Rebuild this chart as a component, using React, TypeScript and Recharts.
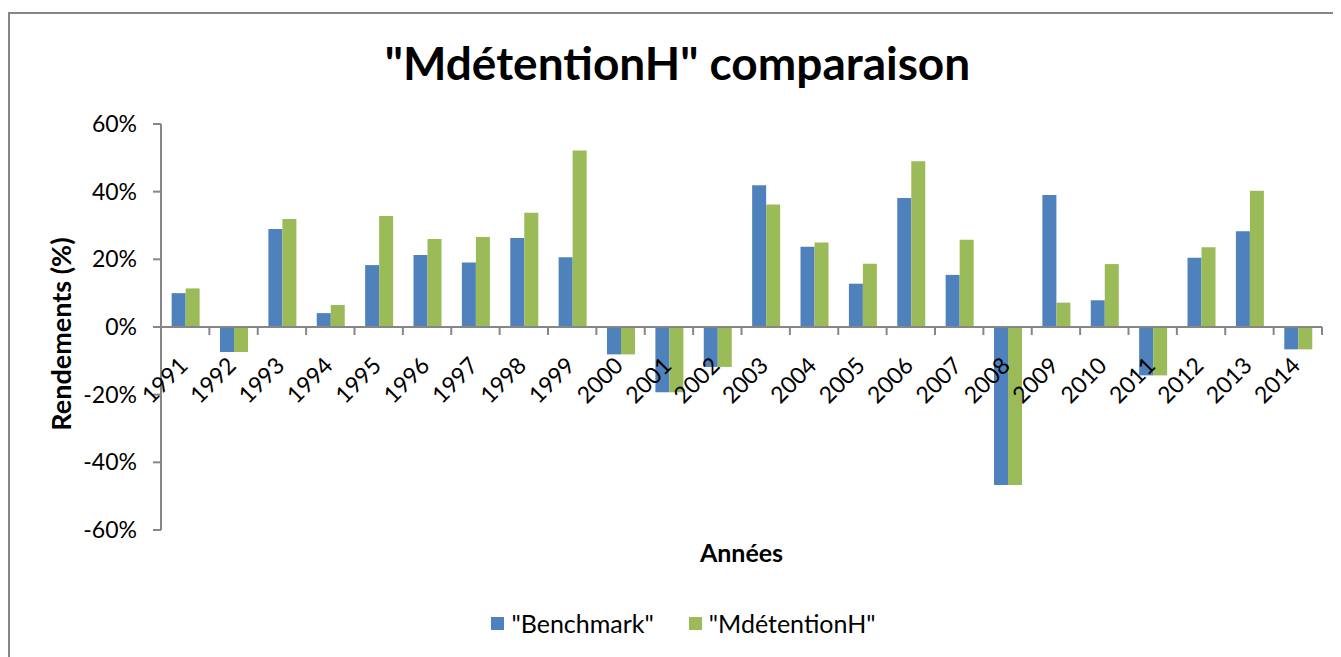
import React from 'react';
import { BarChart, Bar, XAxis, YAxis, ReferenceLine } from 'recharts';

// years on the x axis
const years = [
  '1991', '1992', '1993', '1994', '1995', '1996', '1997', '1998', '1999', '2000', '2001', '2002',
  '2003', '2004', '2005', '2006', '2007', '2008', '2009', '2010', '2011', '2012', '2013', '2014',
];

// yearly returns in %
const benchmark = [
  10.0, -7.4, 29.0, 4.1, 18.3, 21.3, 19.1, 26.3, 20.6, -8.1, -19.3, -11.8,
  41.9, 23.7, 12.8, 38.1, 15.4, -46.7, 39.0, 7.9, -14.3, 20.5, 28.3, -6.6,
];
const mdetention = [
  11.4, -7.4, 31.9, 6.5, 32.8, 26.0, 26.6, 33.8, 52.2, -8.1, -19.3, -11.8,
  36.2, 25.0, 18.7, 49.0, 25.8, -46.7, 7.2, 18.6, -14.3, 23.6, 40.3, -6.6,
];

const yTicks = [-60, -40, -20, 0, 20, 40, 60];

const data = years.map((y, i) => ({ year: y, bench: benchmark[i], mdet: mdetention[i] }));

const W = 1333;
const H = 649;
const MARGIN = { top: 116, right: 19, bottom: 97, left: 93 };
const Y_AXIS_W = 60;
const X_AXIS_H = 30;
const PLOT_W = W - MARGIN.left - MARGIN.right - Y_AXIS_W;
const PLOT_H = H - MARGIN.top - MARGIN.bottom - X_AXIS_H;
const CAT_W = PLOT_W / years.length;

const AXIS = '#868686';
const FONT = 'Lato, "Open Sans", sans-serif';
const BLUE = '#4F81BD';
const GREEN = '#9BBB59';

// x axis sits on the 0% line, not at the bottom of the plot
const XTick = (props: any) => {
  const { x, y, payload, index } = props;
  const zy = y - PLOT_H / 2;
  const lx = x + 4;
  const ly = zy + 40;
  return (
    <g>
      <line x1={x - CAT_W / 2} y1={zy} x2={x - CAT_W / 2} y2={zy + 8} stroke={AXIS} strokeWidth={2} />
      {index === years.length - 1 && (
        <line x1={x + CAT_W / 2} y1={zy} x2={x + CAT_W / 2} y2={zy + 8} stroke={AXIS} strokeWidth={2} />
      )}
      <text
        x={lx}
        y={ly}
        textAnchor="end"
        transform={`rotate(-45, ${lx}, ${ly})`}
        fontSize={23}
        fontFamily={FONT}
        fill="#000"
      >
        {payload.value}
      </text>
    </g>
  );
};

const swatch = (color: string) => (
  <span style={{ width: 13, height: 13, background: color, display: 'inline-block', marginRight: 7 }} />
);

export default function App() {
  return (
    <div style={{ position: 'relative', width: W, height: H, overflow: 'hidden', background: '#fff' }}>
      <div
        style={{
          position: 'absolute', left: 0, top: 4, width: W + 40, height: H + 40,
          borderTop: `2px solid ${AXIS}`, borderLeft: `2px solid ${AXIS}`,
        }}
      />
      <div
        style={{
          position: 'absolute', left: 0, width: W + 6, top: 27, textAlign: 'center',
          fontFamily: FONT, fontWeight: 'bold', fontSize: 46, color: '#000',
        }}
      >
        "MdétentionH" comparaison
      </div>
      <div style={{ position: 'absolute', left: 52, top: 326, width: 0, height: 0 }}>
        <div
          style={{
            position: 'absolute', transform: 'translate(-50%, -50%) rotate(-90deg)', whiteSpace: 'nowrap',
            fontFamily: FONT, fontWeight: 'bold', fontSize: 27, color: '#000',
          }}
        >
          Rendements (%)
        </div>
      </div>
      <div
        style={{
          position: 'absolute', left: MARGIN.left + Y_AXIS_W, width: PLOT_W, top: 529, textAlign: 'center',
          fontFamily: FONT, fontWeight: 'bold', fontSize: 25, color: '#000',
        }}
      >
        Années
      </div>
      <div style={{ position: 'absolute', left: 0, top: 0 }}>
        <BarChart width={W} height={H} data={data} margin={MARGIN} barCategoryGap="22%" barGap={0}>
          <XAxis
            dataKey="year"
            height={X_AXIS_H}
            axisLine={false}
            tickLine={false}
            tickSize={0}
            tickMargin={0}
            interval={0}
            tick={<XTick />}
          />
          <YAxis
            width={Y_AXIS_W}
            domain={[-60, 60]}
            ticks={yTicks}
            interval={0}
            tickFormatter={(v: number) => `${v}%`}
            axisLine={{ stroke: AXIS, strokeWidth: 2 }}
            tickLine={{ stroke: AXIS, strokeWidth: 2 }}
            tickSize={8}
            tickMargin={16}
            tick={{ fill: '#000', fontSize: 23, fontFamily: FONT }}
          />
          <ReferenceLine y={0} stroke={AXIS} strokeWidth={2} />
          <Bar dataKey="bench" name={'"Benchmark"'} fill={BLUE} isAnimationActive={false} />
          <Bar dataKey="mdet" name={'"MdétentionH"'} fill={GREEN} isAnimationActive={false} />
        </BarChart>
      </div>
      <div
        style={{
          position: 'absolute', left: 0, width: W + 18, top: 600, display: 'flex', justifyContent: 'center',
          alignItems: 'center', fontFamily: FONT, fontSize: 25, color: '#000',
        }}
      >
        {swatch(BLUE)}
        <span style={{ marginRight: 35 }}>"Benchmark"</span>
        {swatch(GREEN)}
        <span>"MdétentionH"</span>
      </div>
    </div>
  );
}
